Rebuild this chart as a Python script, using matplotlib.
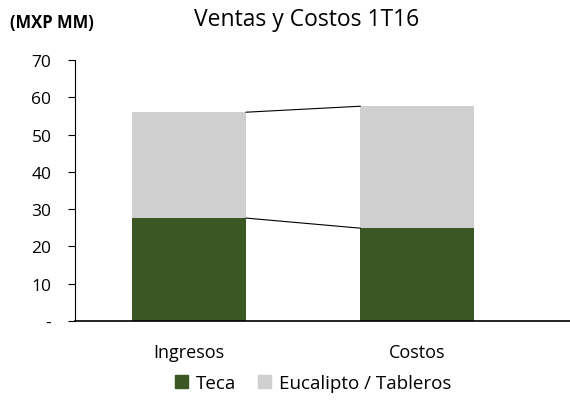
import matplotlib
matplotlib.use("Agg")
import matplotlib.pyplot as plt
from matplotlib.patches import Patch

categories = ["Ingresos", "Costos"]
teca = [27.6, 24.9]
eucalipto = [28.4, 32.7]
yticks = [0, 10, 20, 30, 40, 50, 60, 70]
ytick_labels = ["-", "10", "20", "30", "40", "50", "60", "70"]

green = "#3A5724"
gray = "#D0CFCF"
plt.rcParams['font.family'] = ['Open Sans', 'DejaVu Sans']

fig = plt.figure(figsize=(5.70, 4.06), dpi=100)
ax = fig.add_axes([75/570, 1-322/406, 1-75/570, (322-61)/406])
x = list(range(len(categories)))
w = 0.5
ax.bar(x, teca, width=w, color=green, zorder=2)
ax.bar(x, eucalipto, width=w, bottom=teca, color=gray, zorder=2)
totals = [t + e for t, e in zip(teca, eucalipto)]
ax.plot([x[0] + w/2, x[1] - w/2], [teca[0], teca[1]], color="black", lw=0.8, zorder=3)
ax.plot([x[0] + w/2, x[1] - w/2], [totals[0], totals[1]], color="black", lw=0.8, zorder=3)

ax.set_xlim(-0.5, 1.67)
ax.set_ylim(0, 70)
ax.set_yticks(yticks)
ax.set_yticklabels(ytick_labels, fontsize=12.5)
ax.set_xticks(x)
ax.set_xticklabels(categories, fontsize=13)
ax.tick_params(axis='x', length=0, pad=16)
ax.tick_params(axis='y', direction='out', length=5, width=0.8, pad=12)
for s in ["top", "right"]:
    ax.spines[s].set_visible(False)
ax.spines["left"].set_linewidth(0.8)
ax.spines["bottom"].set_linewidth(1.2)

fig.text(307/570, 1-20/406, "Ventas y Costos 1T16", ha="center", va="center", fontsize=16.5)
fig.text(10/570, 1-23/406, "(MXP MM)", ha="left", va="center", fontsize=12, fontweight="bold")

handles = [Patch(color=green, label="Teca"), Patch(color=gray, label="Eucalipto / Tableros")]
fig.legend(handles=handles, loc="center", bbox_to_anchor=(313/570, 1-384/406), ncol=2,
           frameon=False, fontsize=13.5, handlelength=0.7, handleheight=0.7, handletextpad=0.4,
           columnspacing=1.2)
fig.savefig("out.png", dpi=100)
